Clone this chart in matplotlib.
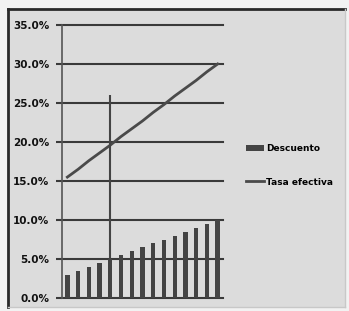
import numpy as np
import matplotlib.pyplot as plt
from matplotlib.patches import Rectangle
from matplotlib.lines import Line2D

# data (percent)
descuento = [3.0, 3.5, 4.0, 4.5, 5.0, 5.5, 6.0, 6.5, 7.0, 7.5, 8.0, 8.5, 9.0, 9.5, 10.0]
tasa_efectiva = [15.5, 16.5, 17.6, 18.6, 19.6, 20.7, 21.7, 22.7, 23.8, 24.8, 25.9, 26.9, 27.9, 29.0, 30.0]
marker_idx = 4
marker_top = 26.0
yticks = [0, 5, 10, 15, 20, 25, 30, 35]

W, H = 349, 311
fig = plt.figure(figsize=(W / 100, H / 100), dpi=100)
fig.patch.set_facecolor('#f2f2f2')

bg = '#dcdcdc'
dark = '#3a3a3a'

# chart area frame
fig.patches.append(Rectangle((8 / W, 1 - 307 / H), 337 / W, 298 / H,
                             transform=fig.transFigure, facecolor=bg,
                             edgecolor='none', zorder=-2))
fig.lines.append(Line2D([8 / W, 8 / W], [1 - 307 / H, 1 - 9 / H],
                        transform=fig.transFigure, color='#2a2a2a', lw=2, zorder=-1))
fig.lines.append(Line2D([8 / W, 345 / W], [1 - 9 / H, 1 - 9 / H],
                        transform=fig.transFigure, color='#2a2a2a', lw=2, zorder=-1))
fig.lines.append(Line2D([345 / W, 345 / W], [1 - 307 / H, 1 - 9 / H],
                        transform=fig.transFigure, color='#c8c8c8', lw=1, zorder=-1))
fig.lines.append(Line2D([8 / W, 345 / W], [1 - 307 / H, 1 - 307 / H],
                        transform=fig.transFigure, color='#c8c8c8', lw=1, zorder=-1))

ax = fig.add_axes([62 / W, 1 - 298 / H, 161 / W, 273 / H])
ax.set_zorder(2)
ax.set_facecolor(bg)

x = np.arange(len(descuento))
ax.bar(x, descuento, width=0.4, color='#444444', zorder=3, label='Descuento')
ax.plot(x, tasa_efectiva, color='#4a4a4a', lw=2, zorder=4, label='Tasa efectiva')
ax.vlines(marker_idx, 0, marker_top, color='#444444', lw=1.5, zorder=4)

ax.set_xlim(-0.5, len(descuento) - 0.5)
ax.set_ylim(0, 35)
ax.set_yticks(yticks)
ax.set_yticklabels([f'{v:.1f}%' for v in yticks], fontsize=7.5,
                   fontweight='bold', color='#111111')
ax.set_xticks([])
ax.yaxis.grid(True, color=dark, lw=1.5, zorder=1)
for gl in ax.get_ygridlines():
    gl.set_clip_on(False)
ax.tick_params(axis='y', length=4, width=1.5, color=dark, pad=5)
for s in ['top', 'right', 'bottom']:
    ax.spines[s].set_visible(False)
ax.spines['left'].set_color('#555555')
ax.spines['left'].set_linewidth(1.2)

handles, labels = ax.get_legend_handles_labels()
order = [labels.index('Descuento'), labels.index('Tasa efectiva')]
leg = fig.legend([handles[i] for i in order], [labels[i] for i in order],
                 loc='upper left', bbox_to_anchor=(238 / W, 1 - 136 / H),
                 frameon=False, fontsize=6.5, handlelength=2.0,
                 handletextpad=0.2, labelspacing=2.7)
for t in leg.get_texts():
    t.set_fontweight('bold')

fig.savefig('out.png', dpi=100, facecolor=fig.get_facecolor())
